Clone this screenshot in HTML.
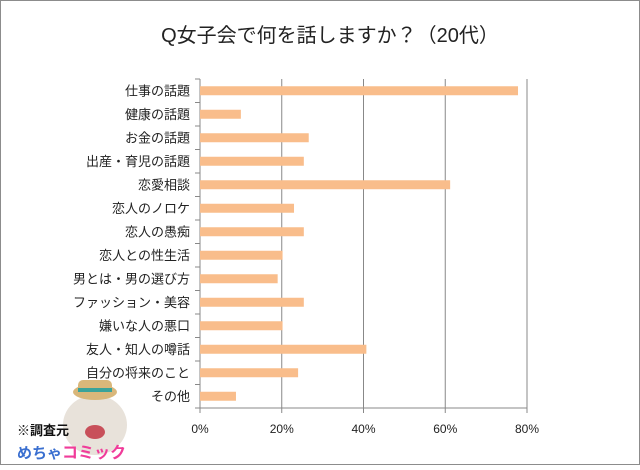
<!DOCTYPE html>
<html><head><meta charset="utf-8"><style>
html,body{margin:0;padding:0;background:#fff;}
body{width:640px;height:465px;overflow:hidden;position:relative;font-family:"Liberation Sans","Noto Sans CJK JP",sans-serif;}
</style></head><body>
<svg width="640" height="465" viewBox="0 0 640 465" xmlns="http://www.w3.org/2000/svg">
<rect x="0.5" y="0.5" width="639" height="464" fill="#fff" stroke="#8c8c8c"/>
<text x="330" y="42" font-size="20" text-anchor="middle" fill="#222" font-family="Liberation Sans,Noto Sans CJK JP,sans-serif">Q女子会で何を話しますか？（20代）</text>
<g id="plot"></g>
<g>
<ellipse cx="95" cy="425" rx="32" ry="30" fill="#e8e2da"/>
<ellipse cx="95" cy="392" rx="22" ry="8" fill="#d9b77a"/>
<rect x="78" y="380" width="34" height="12" rx="5" fill="#d9b77a"/>
<rect x="78" y="388" width="34" height="4" fill="#3aa39a"/>
<ellipse cx="95" cy="432" rx="10" ry="7" fill="#c8505a"/>
<text x="17" y="435" font-size="13" font-weight="bold" fill="#111" font-family="Liberation Sans,Noto Sans CJK JP,sans-serif">※調査元</text>
<text x="17" y="458" font-size="15" font-weight="bold" fill="#3a6fd0" font-family="Liberation Sans,Noto Sans CJK JP,sans-serif">めちゃ</text>
<text x="62" y="458" font-size="16" font-weight="bold" fill="#f03c9a" font-family="Liberation Sans,Noto Sans CJK JP,sans-serif">コミック</text>
</g>
</svg>
<script>
const categories=["仕事の話題","健康の話題","お金の話題","出産・育児の話題","恋愛相談","恋人のノロケ","恋人の愚痴","恋人との性生活","男とは・男の選び方","ファッション・美容","嫌いな人の悪口","友人・知人の噂話","自分の将来のこと","その他"];
const values=[77.8,10,26.6,25.4,61.2,23,25.4,20.2,19,25.4,20.2,40.7,24,8.8];
const ticks=[0,20,40,60,80];
const NS="http://www.w3.org/2000/svg";
const g=document.getElementById('plot');
const X0=200,X1=527,MAX=80,Y0=79,Y1=408;
const band=(Y1-Y0)/categories.length;
const xs=v=>X0+(X1-X0)*v/MAX;
function mk(t,a){const e=document.createElementNS(NS,t);for(const k in a)e.setAttribute(k,a[k]);g.appendChild(e);return e;}
ticks.forEach(t=>{
 const x=xs(t);
 if(t>0){const l=mk('line',{x1:x,x2:x,y1:Y0,y2:Y1,stroke:'#888','stroke-width':1});
 
 }
 const tl=mk('line',{x1:x,x2:x,y1:Y1,y2:Y1+5,stroke:'#888'});
 
 
 const tx=mk('text',{x:x,y:Y1+25,'font-size':12,'text-anchor':'middle',fill:'#222'});
 tx.textContent=t+'%';
 
 
});
const ax=mk('line',{x1:X0,x2:X0,y1:Y0,y2:Y1,stroke:'#888'});


const bx=mk('line',{x1:X0,x2:X1,y1:Y1,y2:Y1,stroke:'#888'});


for(let i=0;i<=categories.length;i++){
 const tk=mk('line',{x1:X0-5,x2:X0,y1:Y0+i*band,y2:Y0+i*band,stroke:'#888'});
 
 
}
categories.forEach((c,i)=>{
 const cy=Y0+band*(i+0.5);
 const r=mk('rect',{x:X0,y:cy-4.5,width:xs(values[i])-X0,height:9,fill:'#f9bd8b'});
 
 
 const t=mk('text',{x:X0-10,y:cy+4.5,'font-size':13,'text-anchor':'end',fill:'#222'});
 t.textContent=c;
 
 
});
</script>
</body></html>
